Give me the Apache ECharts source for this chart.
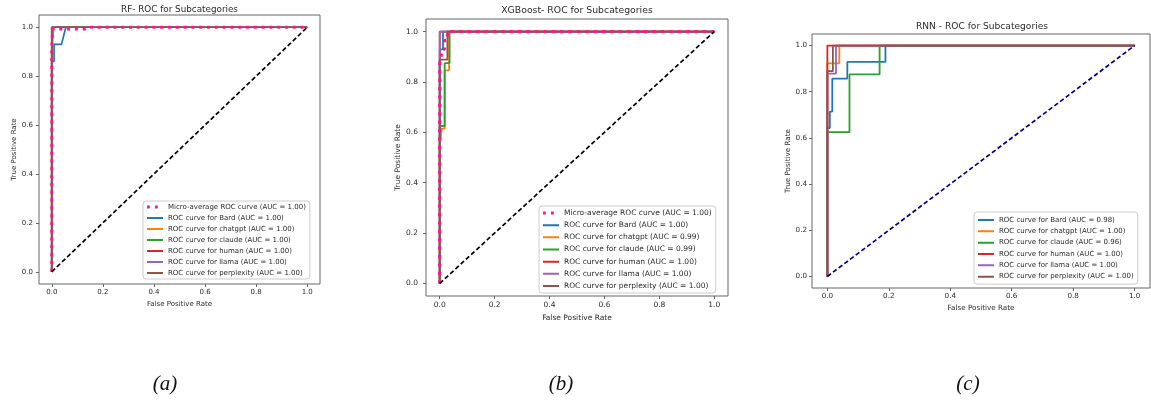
<!DOCTYPE html>
<html>
<head>
<meta charset="utf-8">
<script src="https://cdn.jsdelivr.net/npm/echarts@6/dist/echarts.min.js"></script>
<style>
  html, body { margin: 0; padding: 0; background: #ffffff; }
  #chart { width: 1151px; height: 400px; }
</style>
</head>
<body>
<div id="chart"></div>
<script>
// ---- data ------------------------------------------------------------
const classNames = ['Bard', 'chatgpt', 'claude', 'human', 'llama', 'perplexity'];
const classColors = ['#1f77b4', '#ff7f0e', '#2ca02c', '#d62728', '#9467bd', '#8c564b'];
const tickValues = [0, 0.2, 0.4, 0.6, 0.8, 1.0];
const tickLabels = ['0.0', '0.2', '0.4', '0.6', '0.8', '1.0'];
const panelTitles = ['RF- ROC for Subcategories', 'XGBoost- ROC for Subcategories', 'RNN - ROC for Subcategories'];
const captions = ['(a)', '(b)', '(c)'];
const chanceLine = [[0, 0], [1, 1]];

// Random forest: [false positive rate, true positive rate]
const rfMicro      = [[0, 0], [0, 0.9], [0.003, 0.9], [0.003, 0.993], [0.13, 0.993], [0.14, 1], [1, 1]];
const rfBard       = [[0, 0], [0, 0.86], [0.009, 0.86], [0.009, 0.93], [0.038, 0.93], [0.055, 1], [1, 1]];
const rfChatgpt    = [[0, 0], [0, 0.9], [0.007, 0.9], [0.007, 1], [1, 1]];
const rfClaude     = [[0, 0], [0, 0.875], [0.004, 0.875], [0.004, 1], [1, 1]];
const rfHuman      = [[0, 0], [0, 1], [1, 1]];
const rfLlama      = [[0, 0], [0, 1], [1, 1]];
const rfPerplexity = [[0, 0], [0, 1], [1, 1]];

// XGBoost
const xgbMicro      = [[0, 0], [0, 0.87], [0.004, 0.87], [0.004, 0.9], [0.01, 0.9], [0.01, 0.93], [0.018, 0.93], [0.018, 0.965], [0.028, 0.965], [0.028, 1], [1, 1]];
const xgbBard       = [[0, 0], [0, 0.929], [0.012, 0.929], [0.012, 1], [1, 1]];
const xgbChatgpt    = [[0, 0], [0, 0.54], [0.007, 0.54], [0.007, 0.615], [0.018, 0.615], [0.018, 0.846], [0.034, 0.846], [0.034, 1], [1, 1]];
const xgbClaude     = [[0, 0], [0, 0.625], [0.018, 0.625], [0.018, 0.875], [0.036, 0.875], [0.036, 1], [1, 1]];
const xgbHuman      = [[0, 0], [0, 1], [1, 1]];
const xgbLlama      = [[0, 0], [0, 1], [1, 1]];
const xgbPerplexity = [[0, 0], [0, 0.889], [0.028, 0.889], [0.028, 1], [1, 1]];

// RNN
const rnnBard       = [[0, 0], [0, 0.643], [0.008, 0.643], [0.008, 0.714], [0.016, 0.714], [0.016, 0.857], [0.065, 0.857], [0.065, 0.929], [0.189, 0.929], [0.189, 1], [1, 1]];
const rnnChatgpt    = [[0, 0], [0, 0.923], [0.039, 0.923], [0.039, 1], [1, 1]];
const rnnClaude     = [[0, 0], [0, 0.625], [0.072, 0.625], [0.072, 0.875], [0.17, 0.875], [0.17, 1], [1, 1]];
const rnnHuman      = [[0, 0], [0, 1], [1, 1]];
const rnnLlama      = [[0, 0], [0, 0.878], [0.028, 0.878], [0.028, 1], [1, 1]];
const rnnPerplexity = [[0, 0], [0, 0.889], [0.018, 0.889], [0.018, 1], [1, 1]];

// ---- helpers -----------------------------------------------------------
// area under a ROC curve by the trapezoid rule
function areaUnder(points) {
  let s = 0;
  for (let i = 1; i < points.length; i++) {
    s += (points[i][0] - points[i - 1][0]) * (points[i][1] + points[i - 1][1]) / 2;
  }
  return s;
}
function curveName(cls, points) {
  return 'ROC curve for ' + cls + ' (AUC = ' + areaUnder(points).toFixed(2) + ')';
}
function microName(points) {
  return 'Micro-average ROC curve (AUC = ' + areaUnder(points).toFixed(2) + ')';
}
function tickText(v) {
  const i = tickValues.findIndex(t => Math.abs(t - v) < 1e-9);
  return i >= 0 ? tickLabels[i] : '';
}

const FONT = 'DejaVu Sans';
const TEXT = '#2b2b2b';
const SPINE = '#666666';
const LINE_ICON = 'path://M0,0.5h16v2h-16zM0,0v3zM16,0v3z';
const DOT_ICON = 'path://M0,0h2.8v3h-2.8zM8,0h2.8v3h-2.8zM16,0v3z';

const panels = [
  {
    micro: rfMicro,
    curves: [rfBard, rfChatgpt, rfClaude, rfHuman, rfLlama, rfPerplexity],
    chanceColor: '#000000',
    grid: { left: 39, top: 15, width: 281, height: 269 },
    font: 7, xLabelMargin: 5, yLabelMargin: 6, xNameGap: 15, yNameGap: 21,
    title: { x: 179.5, y: 9.5, size: 8.8 },
    legend: { left: 143, top: 201, font: 7, lh: 8, gap: 3, pad: [2, 4, 2, 4] },
    lineW: 1.7,
    dot: { w: 3, dash: [3, 4.8] }
  },
  {
    micro: xgbMicro,
    curves: [xgbBard, xgbChatgpt, xgbClaude, xgbHuman, xgbLlama, xgbPerplexity],
    chanceColor: '#000000',
    grid: { left: 426, top: 19, width: 302, height: 277 },
    font: 7.5, xLabelMargin: 5, yLabelMargin: 8, xNameGap: 15, yNameGap: 21,
    title: { x: 577, y: 11, size: 9.3 },
    legend: { left: 539, top: 206, font: 7.5, lh: 9, gap: 3.17, pad: [2.5, 4, 2.5, 4] },
    lineW: 1.8,
    dot: { w: 3.2, dash: [3.2, 5.2] }
  },
  {
    micro: null,
    curves: [rnnBard, rnnChatgpt, rnnClaude, rnnHuman, rnnLlama, rnnPerplexity],
    chanceColor: '#000080',
    grid: { left: 812, top: 34, width: 338, height: 254 },
    font: 7.2, xLabelMargin: 5, yLabelMargin: 5, xNameGap: 13, yNameGap: 20,
    title: { x: 982, y: 26.5, size: 9.1 },
    legend: { left: 974, top: 212, font: 7, lh: 8, gap: 3.33, pad: [4, 4, 3.5, 4] },
    lineW: 1.8,
    dot: null
  }
];

const grids = [], xAxes = [], yAxes = [], series = [], legends = [], graphics = [];

panels.forEach((p, k) => {
  grids.push(Object.assign({ show: true, borderColor: SPINE, borderWidth: 1, backgroundColor: '#ffffff' }, p.grid));

  const axisCommon = {
    gridIndex: k, type: 'value', min: -0.05, max: 1.05,
    nameLocation: 'middle',
    nameTextStyle: { fontFamily: FONT, fontSize: p.font, color: TEXT },
    axisLine: { show: false, onZero: false },
    axisTick: { show: true, length: 3, inside: false, customValues: tickValues, lineStyle: { color: SPINE, width: 1 } },
    splitLine: { show: false }
  };
  xAxes.push(Object.assign({}, axisCommon, {
    name: 'False Positive Rate', nameGap: p.xNameGap,
    axisLabel: { customValues: tickValues, formatter: tickText, fontFamily: FONT, fontSize: p.font, color: TEXT, margin: p.xLabelMargin }
  }));
  yAxes.push(Object.assign({}, axisCommon, {
    name: 'True Positive Rate', nameGap: p.yNameGap,
    axisLabel: { customValues: tickValues, formatter: tickText, fontFamily: FONT, fontSize: p.font, color: TEXT, margin: p.yLabelMargin }
  }));

  const legendData = [];
  if (p.micro) legendData.push({ name: microName(p.micro), icon: DOT_ICON });
  p.curves.forEach((pts, i) => {
    const nm = curveName(classNames[i], pts);
    legendData.push({ name: nm, icon: LINE_ICON });
    series.push({
      type: 'line', name: nm, xAxisIndex: k, yAxisIndex: k, data: pts,
      showSymbol: false, color: classColors[i],
      lineStyle: { color: classColors[i], width: p.lineW },
      z: 3
    });
  });
  // micro-average dots sit above the per-class curves
  if (p.micro) {
    series.push({
      type: 'line', name: microName(p.micro), xAxisIndex: k, yAxisIndex: k, data: p.micro,
      showSymbol: false, color: '#ff1493',
      lineStyle: { color: '#ff1493', width: p.dot.w, type: p.dot.dash, cap: 'butt' },
      z: 4
    });
  }
  series.push({
    type: 'line', name: 'chance-' + k, xAxisIndex: k, yAxisIndex: k, data: chanceLine,
    showSymbol: false, color: p.chanceColor,
    lineStyle: { color: p.chanceColor, width: 1.7, type: [4.5, 2.6], cap: 'butt' },
    z: 5
  });

  legends.push({
    orient: 'vertical', left: p.legend.left, top: p.legend.top,
    data: legendData, selectedMode: false,
    itemWidth: 16, itemHeight: 3, itemGap: p.legend.gap,
    padding: p.legend.pad,
    backgroundColor: '#ffffff', borderColor: '#cccccc', borderWidth: 1, borderRadius: 3,
    itemStyle: { borderWidth: 0 },
    textStyle: { fontFamily: FONT, fontSize: p.legend.font, lineHeight: p.legend.lh, color: TEXT }
  });

  graphics.push({
    type: 'text', x: p.title.x, y: p.title.y, silent: true,
    style: { text: panelTitles[k], fontFamily: FONT, fontSize: p.title.size, fill: TEXT, textAlign: 'center', textVerticalAlign: 'middle' }
  });
});

const captionX = [165, 561, 968];
captions.forEach((c, k) => {
  graphics.push({
    type: 'text', x: captionX[k], y: 384, silent: true,
    style: { text: c, fontFamily: 'Liberation Serif', fontStyle: 'italic', fontSize: 21, fill: '#111111', textAlign: 'center', textVerticalAlign: 'middle' }
  });
});

const chart = echarts.init(document.getElementById('chart'), null, { renderer: 'canvas' });
chart.setOption({
  animation: false,
  backgroundColor: '#ffffff',
  grid: grids,
  xAxis: xAxes,
  yAxis: yAxes,
  legend: legends,
  series: series,
  graphic: graphics
});
</script>
</body>
</html>
